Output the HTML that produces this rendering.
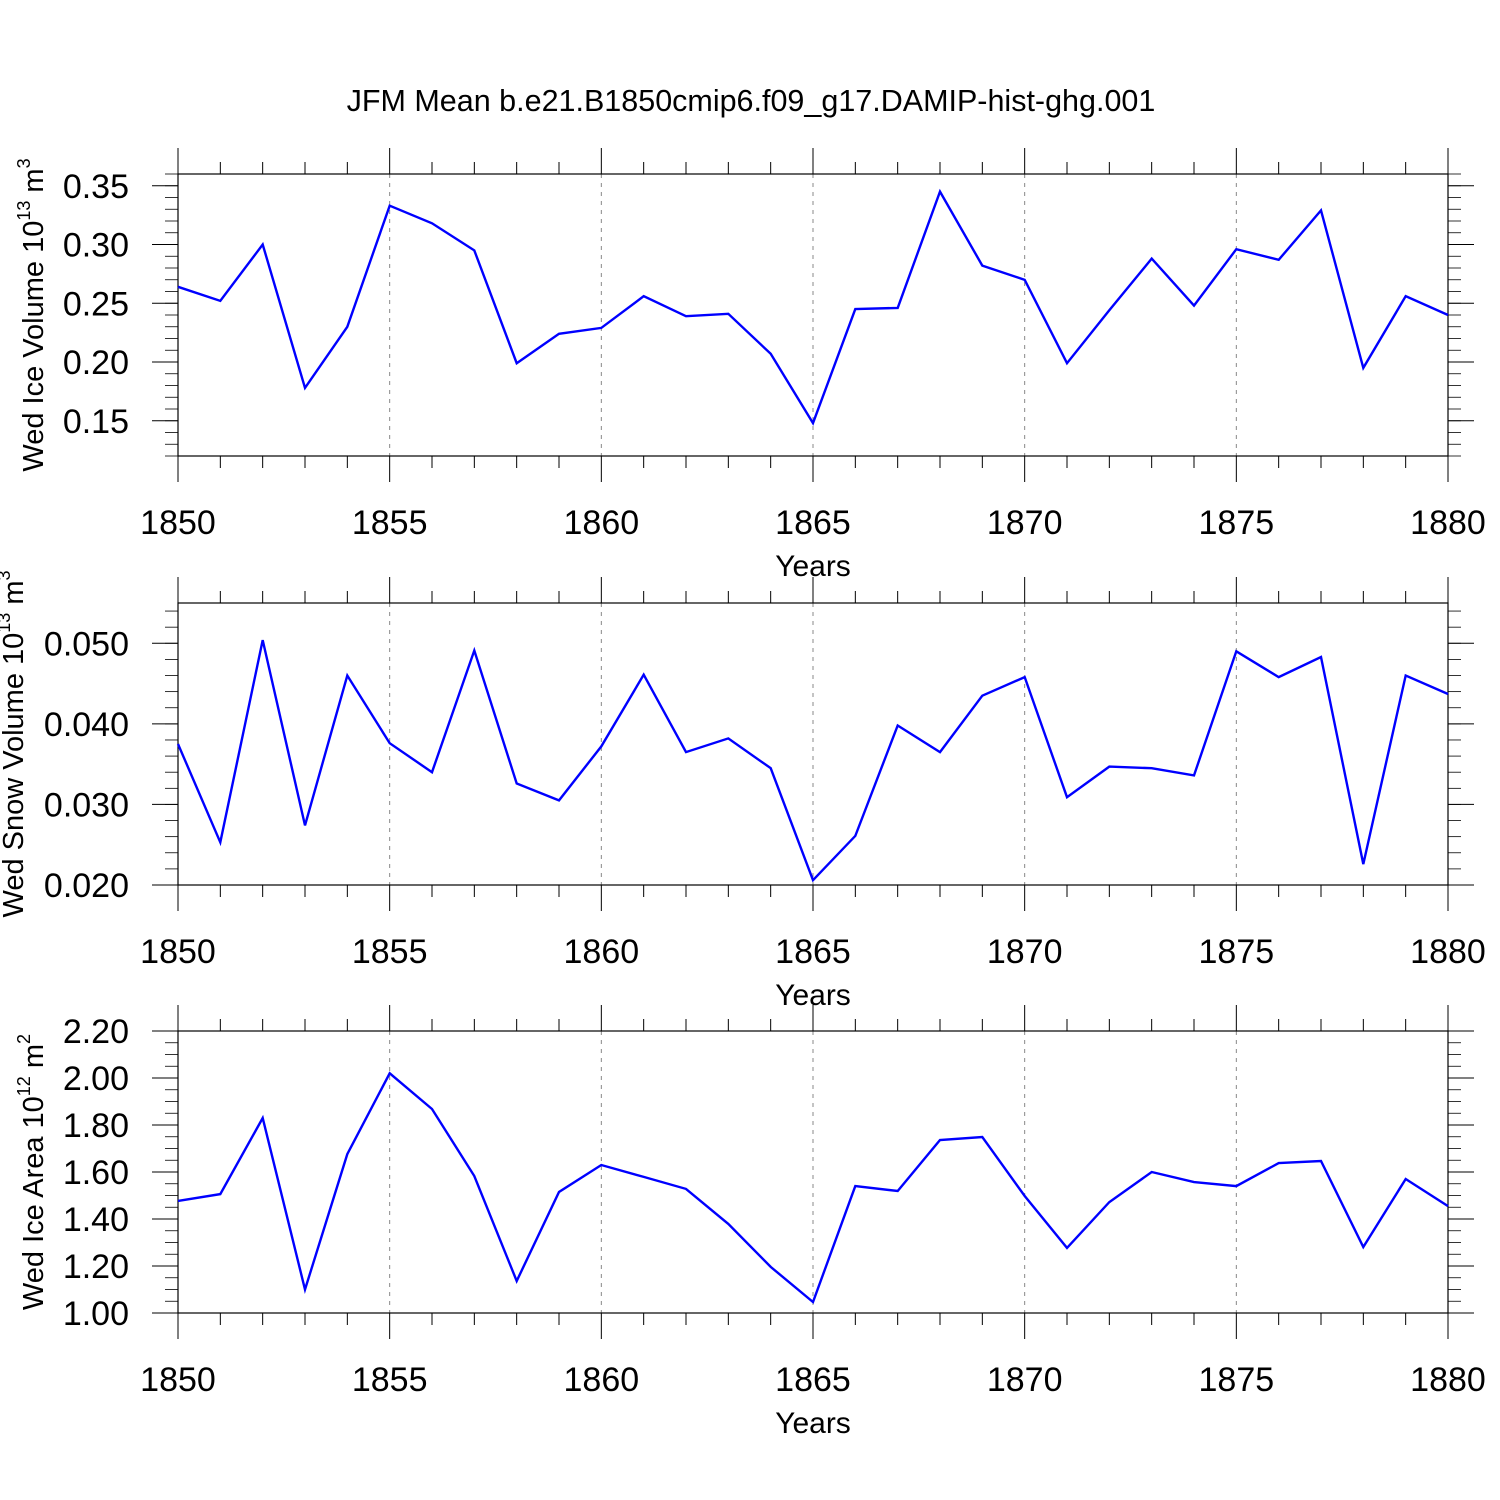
<!DOCTYPE html>
<html><head><meta charset="utf-8"><style>
body{margin:0;background:#fff}
svg{display:block;font-family:"Liberation Sans",Arial,sans-serif}
</style></head><body>
<svg id="chart" width="1500" height="1500" viewBox="0 0 1500 1500">
<text x="751" y="111" font-size="30.5" text-anchor="middle">JFM Mean b.e21.B1850cmip6.f09_g17.DAMIP-hist-ghg.001</text>
</svg>
<script>
const years = [];
for (let y = 1850; y <= 1880; y++) years.push(y);
const iceVolume = [0.264,0.252,0.300,0.178,0.230,0.333,0.318,0.295,0.199,0.224,0.229,0.256,0.239,0.241,0.207,0.148,0.245,0.246,0.345,0.282,0.270,0.199,0.244,0.288,0.248,0.296,0.287,0.329,0.195,0.256,0.240];
const snowVolume = [0.0375,0.0253,0.0504,0.0274,0.0460,0.0376,0.0340,0.0491,0.0326,0.0305,0.0372,0.0461,0.0365,0.0382,0.0345,0.0206,0.0261,0.0398,0.0365,0.0435,0.0458,0.0309,0.0347,0.0345,0.0336,0.0490,0.0458,0.0483,0.0226,0.0460,0.0437];
const iceArea = [1.477,1.506,1.830,1.100,1.676,2.020,1.868,1.583,1.136,1.515,1.630,1.579,1.528,1.379,1.196,1.047,1.540,1.519,1.736,1.749,1.498,1.277,1.472,1.600,1.557,1.540,1.638,1.647,1.281,1.570,1.455];
const xTickLabels = ["1850","1855","1860","1865","1870","1875","1880"];
const iceVolumeTicks = ["0.15","0.20","0.25","0.30","0.35"];
const snowVolumeTicks = ["0.020","0.030","0.040","0.050"];
const iceAreaTicks = ["1.00","1.20","1.40","1.60","1.80","2.00","2.20"];

const NS = "http://www.w3.org/2000/svg";
const svg = document.getElementById('chart');
function mk(tag, attrs, parent){
  const e = document.createElementNS(NS, tag);
  for (const k in attrs) e.setAttribute(k, attrs[k]);
  (parent||svg).appendChild(e); return e;
}
const X0 = 178, X1 = 1448;
function xs(yr){ return X0 + (yr-1850)/30*(X1-X0); }

function panel(key, top, bottom, ymin, ymax, minorStep, ticks, values, titleHTML, titleX){
  const g = mk('g', {});
  
  
  const ys = v => bottom - (v-ymin)/(ymax-ymin)*(bottom-top);
  xTickLabels.forEach(t => {
    const yr = +t;
    if (yr > 1850 && yr < 1880) {
      const l = mk('line', {x1:xs(yr),x2:xs(yr),y1:top,y2:bottom,stroke:'#888','stroke-width':1,'stroke-dasharray':'4,5'}, g);
      
      
    }
  });
  const fr = mk('rect', {x:X0,y:top,width:X1-X0,height:bottom-top,fill:'none',stroke:'#000','stroke-width':1.2}, g);
  
  
  years.forEach(yr => {
    const major = (yr-1850)%5===0;
    const L = major ? 26 : 12;
    const x = xs(yr);
    mk('line',{x1:x,x2:x,y1:top,y2:top-L,stroke:'#000','stroke-width':1}, g);
    mk('line',{x1:x,x2:x,y1:bottom,y2:bottom+L,stroke:'#000','stroke-width':1}, g);
  });
  xTickLabels.forEach(t => {
    const tx = mk('text',{x:xs(+t),y:bottom+78,'font-size':34,'text-anchor':'middle'}, g);
    tx.textContent = t;
    
    
  });
  const xt = mk('text',{x:813,y:bottom+120,'font-size':30,'text-anchor':'middle'}, g);
  xt.textContent = 'Years';
  
  
  const n = Math.round((ymax-ymin)/minorStep);
  for (let i=0;i<=n;i++){
    const v = ymin + i*minorStep;
    if (v > ymax+1e-9) break;
    const y = ys(v);
    mk('line',{x1:X0,x2:X0-13,y1:y,y2:y,stroke:'#000','stroke-width':0.8}, g);
    mk('line',{x1:X1,x2:X1+13,y1:y,y2:y,stroke:'#000','stroke-width':0.8}, g);
  }
  ticks.forEach(t => {
    const y = ys(+t);
    mk('line',{x1:X0,x2:X0-26,y1:y,y2:y,stroke:'#000','stroke-width':1}, g);
    mk('line',{x1:X1,x2:X1+26,y1:y,y2:y,stroke:'#000','stroke-width':1}, g);
    const tx = mk('text',{x:129,y:y+12,'font-size':34,'text-anchor':'end'}, g);
    tx.textContent = t;
    
    
  });
  const yt = mk('text',{x:0,y:0,'font-size':29,'text-anchor':'middle',transform:`translate(${titleX},${(top+bottom)/2}) rotate(-90)`}, g);
  yt.innerHTML = titleHTML;
  
  
  const pts = values.map((v,i)=>xs(years[i]).toFixed(1)+','+ys(v).toFixed(1)).join(' ');
  const pl = mk('polyline',{points:pts,fill:'none',stroke:'#0000ff','stroke-width':2.4,'stroke-linejoin':'miter'}, g);
  
  
}
panel('ice-volume',174,456,0.12,0.36,0.01,iceVolumeTicks,iceVolume,'Wed Ice Volume 10<tspan font-size="18" dy="-13">13</tspan><tspan dy="13"> m</tspan><tspan font-size="18" dy="-13">3</tspan>',43);
panel('snow-volume',603,885,0.020,0.055,0.002,snowVolumeTicks,snowVolume,'Wed Snow Volume 10<tspan font-size="18" dy="-13">13</tspan><tspan dy="13"> m</tspan><tspan font-size="18" dy="-13">3</tspan>',23);
panel('ice-area',1031,1313,1.00,2.20,0.05,iceAreaTicks,iceArea,'Wed Ice Area 10<tspan font-size="18" dy="-13">12</tspan><tspan dy="13"> m</tspan><tspan font-size="18" dy="-13">2</tspan>',43);
</script>
</body></html>
